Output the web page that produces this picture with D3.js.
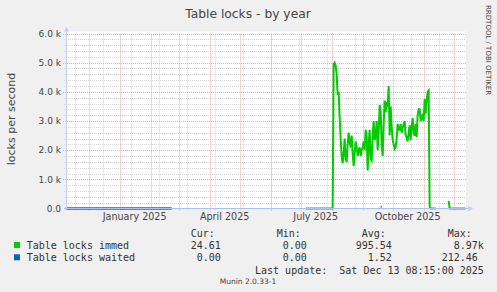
<!DOCTYPE html>
<html lang="en">
<head>
<meta charset="UTF-8">
<title>Table locks - by year</title>
<style>
  body { margin: 0; background: #f0f0f0; }
  svg { display: block; }
  text { font-family: "DejaVu Sans", sans-serif; fill: #444; }
  .mono { font-family: "DejaVu Sans Mono", monospace; font-size: 10px; white-space: pre; fill: #333; }
</style>
<script src="https://d3js.org/d3.v7.min.js"></script>
</head>
<body>
<svg width="497" height="292"></svg>
<script>
// time window of the graph (400 days up to the last update)
const rangeStart = "2024-11-08 08:15";
const rangeEnd = "2025-12-13 08:15";

const yTicks = [0, 1000, 2000, 3000, 4000, 5000, 6000];
const yTickLabels = ["0.0", "1.0 k", "2.0 k", "3.0 k", "4.0 k", "5.0 k", "6.0 k"];
const xLabelMonths = ["2025-01-01", "2025-04-01", "2025-07-01", "2025-10-01"];
const xLabels = ["January 2025", "April 2025", "July 2025", "October 2025"];

// Table locks immed (null = no data)
const immed = [
  ["2024-11-08", 0], ["2025-02-22", 0], ["2025-02-23", null],
  ["2025-07-06", 0], ["2025-08-02", 0],
  ["2025-08-03", 4950], ["2025-08-04", 5000], ["2025-08-05", 4900], ["2025-08-06", 4600],
  ["2025-08-07", 3900], ["2025-08-08", 4000], ["2025-08-09", 3100], ["2025-08-10", 2400],
  ["2025-08-11", 1800], ["2025-08-12", 1550], ["2025-08-13", 1900], ["2025-08-14", 2400],
  ["2025-08-15", 1700], ["2025-08-16", 1600], ["2025-08-17", 2200], ["2025-08-18", 2600],
  ["2025-08-19", 2300], ["2025-08-20", 2100], ["2025-08-21", 2500], ["2025-08-22", 1900],
  ["2025-08-23", 1450], ["2025-08-24", 1900], ["2025-08-25", 2300], ["2025-08-26", 2100],
  ["2025-08-27", 1800], ["2025-08-28", 2000], ["2025-08-29", 2100], ["2025-08-30", 1800],
  ["2025-08-31", 2000], ["2025-09-01", 2100], ["2025-09-02", 2300], ["2025-09-03", 2000],
  ["2025-09-04", 2700], ["2025-09-05", 2500], ["2025-09-06", 1300], ["2025-09-07", 2200],
  ["2025-09-08", 2700], ["2025-09-09", 1700], ["2025-09-10", 1650], ["2025-09-11", 2500],
  ["2025-09-12", 3000], ["2025-09-13", 2350], ["2025-09-14", 2500], ["2025-09-15", 3000],
  ["2025-09-16", 2000], ["2025-09-17", 2600], ["2025-09-18", 3550], ["2025-09-19", 3300],
  ["2025-09-20", 2200], ["2025-09-21", 1800], ["2025-09-22", 2900], ["2025-09-23", 3700],
  ["2025-09-24", 3300], ["2025-09-25", 3650], ["2025-09-26", 3500], ["2025-09-27", 4200],
  ["2025-09-28", 2500], ["2025-09-29", 3500], ["2025-09-30", 2800], ["2025-10-01", 2350],
  ["2025-10-02", 2200], ["2025-10-03", 2050], ["2025-10-04", 2100], ["2025-10-05", 2400],
  ["2025-10-06", 2900], ["2025-10-07", 2700], ["2025-10-08", 2700], ["2025-10-09", 2900],
  ["2025-10-10", 2600], ["2025-10-11", 2750], ["2025-10-12", 2900], ["2025-10-13", 3000],
  ["2025-10-14", 2500], ["2025-10-15", 2450], ["2025-10-16", 2300], ["2025-10-17", 2600],
  ["2025-10-18", 2850], ["2025-10-19", 2350], ["2025-10-20", 2800], ["2025-10-21", 3100],
  ["2025-10-22", 2600], ["2025-10-23", 2500], ["2025-10-24", 2900], ["2025-10-25", 2450],
  ["2025-10-26", 3200], ["2025-10-27", 3400], ["2025-10-28", 3400], ["2025-10-29", 3000],
  ["2025-10-30", 3100], ["2025-10-31", 3250], ["2025-11-01", 3000], ["2025-11-02", 3750],
  ["2025-11-03", 3250], ["2025-11-04", 3700], ["2025-11-05", 4000], ["2025-11-06", 4050],
  ["2025-11-07", 60], ["2025-11-08", 0], ["2025-11-13", 0], ["2025-11-14", null],
  ["2025-11-26", 260], ["2025-11-27", 0], ["2025-12-13", 0]
];

// Table locks waited
const waited = [
  ["2024-11-08", 0], ["2025-02-22", 0], ["2025-02-23", null],
  ["2025-09-19", 60], ["2025-09-20", 60]
];

const legendNames = ["Table locks immed", "Table locks waited"];
const legendColors = ["#00cc00", "#0066b3"];
const legendCur = ["24.61", "0.00"];
const legendMin = ["0.00", "0.00"];
const legendAvg = ["995.54", "1.52"];
const legendMax = ["8.97k", "212.46 "];
const lastUpdate = "Last update:  Sat Dec 13 08:15:00 2025";

const svg = d3.select("svg");
const parseDay = d3.timeParse("%Y-%m-%d");
const parseTime = d3.timeParse("%Y-%m-%d %H:%M");
const t0 = parseTime(rangeStart), t1 = parseTime(rangeEnd);

const plotLeft = 66, plotRight = 466, plotTop = 33.5, plotBottom = 208.5;
const x = d3.scaleTime().domain([t0, t1]).range([plotLeft, plotRight]);
const y = d3.scaleLinear().domain([0, 6000]).range([plotBottom, plotTop]);
const px = v => Math.round(v) + 0.5;

// canvas
svg.append("rect").attr("x", plotLeft).attr("y", plotTop - 2)
  .attr("width", plotRight - plotLeft).attr("height", plotBottom - plotTop + 2)
  .attr("fill", "#fff");

// minor grid
const minorColor = "#d6d6d6", majorColor = "#f4a8a8";
const grid = svg.append("g");
const sundays = d3.timeSunday.range(t0, t1).filter((d, i) => i % 4 === 1);
grid.selectAll(".vmin").data(sundays).enter().append("line")
  .attr("x1", d => px(x(d))).attr("x2", d => px(x(d)))
  .attr("y1", plotTop).attr("y2", plotBottom + 2)
  .attr("stroke", minorColor).attr("stroke-dasharray", "1,1");
const minorY = d3.range(200, 6001, 200).filter(v => v % 1000 !== 0);
grid.selectAll(".hmin").data(minorY).enter().append("line")
  .attr("x1", plotLeft - 2).attr("x2", plotRight)
  .attr("y1", d => px(y(d))).attr("y2", d => px(y(d)))
  .attr("stroke", minorColor).attr("stroke-dasharray", "1,1");

// major grid
const months = d3.timeMonth.range(d3.timeMonth.ceil(t0), t1);
grid.selectAll(".vmaj").data(months).enter().append("line")
  .attr("x1", d => px(x(d))).attr("x2", d => px(x(d)))
  .attr("y1", plotTop).attr("y2", plotBottom + 3)
  .attr("stroke", majorColor).attr("stroke-dasharray", "1,1");
grid.selectAll(".hmaj").data(yTicks.slice(1)).enter().append("line")
  .attr("x1", plotLeft - 3).attr("x2", plotRight)
  .attr("y1", d => px(y(d))).attr("y2", d => px(y(d)))
  .attr("stroke", majorColor).attr("stroke-dasharray", "1,1");

// y labels
svg.selectAll(".ylab").data(yTicks).enter().append("text")
  .attr("x", 61).attr("y", d => y(d) + 3.3)
  .attr("text-anchor", "end").attr("font-size", 9).attr("fill", "#555")
  .text((d, i) => yTickLabels[i]);

// x labels, centred in the middle of the month
svg.selectAll(".xlab").data(xLabelMonths).enter().append("text")
  .attr("x", d => x(d3.timeDay.offset(parseDay(d), 15)))
  .attr("y", 219.5)
  .attr("text-anchor", "middle").attr("font-size", 9.6).attr("fill", "#555")
  .text((d, i) => xLabels[i]);

// series
const line = d3.line()
  .defined(d => d[1] !== null)
  .x(d => x(parseDay(d[0])))
  .y(d => y(d[1]));
svg.append("path").datum(immed).attr("d", line)
  .attr("fill", "none").attr("stroke", legendColors[0]).attr("stroke-width", 2);
svg.append("path").datum(waited).attr("d", line)
  .attr("fill", "none").attr("stroke", legendColors[1]).attr("stroke-width", 2);

// axes with arrows
const axisColor = "#c6cdf6";
svg.append("line").attr("x1", plotLeft + 0.5).attr("x2", plotLeft + 0.5)
  .attr("y1", plotBottom + 2).attr("y2", 29).attr("stroke", axisColor);
svg.append("line").attr("x1", plotLeft - 2).attr("x2", plotRight + 2)
  .attr("y1", plotBottom).attr("y2", plotBottom).attr("stroke", "#a9c2ef");
svg.append("path").attr("d", `M${plotLeft - 2},31.5 L${plotLeft + 0.5},26.5 L${plotLeft + 3},31.5 Z`)
  .attr("fill", axisColor);
svg.append("path").attr("d", `M${plotRight + 2},${plotBottom - 3} L${plotRight + 7},${plotBottom} L${plotRight + 2},${plotBottom + 3} Z`)
  .attr("fill", axisColor);

// title and side texts
svg.append("text").attr("x", 248).attr("y", 18).attr("text-anchor", "middle")
  .attr("font-size", 12.3).attr("fill", "#4a4a4a").text("Table locks - by year");
svg.append("text").attr("transform", "translate(14.5,119) rotate(-90)")
  .attr("text-anchor", "middle").attr("font-size", 11).attr("fill", "#555").text("locks per second");
svg.append("text").attr("transform", "translate(486,5) rotate(90)")
  .attr("font-size", 7).attr("fill", "#bbb").text("RRDTOOL / TOBI OETIKER");
svg.append("text").attr("x", 248).attr("y", 284).attr("text-anchor", "middle")
  .attr("font-size", 7.5).attr("fill", "#bbb").text("Munin 2.0.33-1");

// legend
const lg = svg.append("g");
[["Cur:", 190.7], ["Min:", 276.7], ["Avg:", 361.7], ["Max:", 447.7]].forEach(h => {
  lg.append("text").attr("class", "mono").attr("x", h[1]).attr("y", 237).text(h[0]);
});
legendNames.forEach((name, i) => {
  const by = 248.5 + i * 12.3;
  lg.append("rect").attr("x", 14).attr("y", by - 6.5).attr("width", 6).attr("height", 6)
    .attr("fill", legendColors[i]);
  lg.append("text").attr("class", "mono").attr("x", 26.7).attr("y", by).text(name);
  lg.append("text").attr("class", "mono").attr("x", 220.8).attr("y", by).attr("text-anchor", "end").text(legendCur[i]);
  lg.append("text").attr("class", "mono").attr("x", 306.8).attr("y", by).attr("text-anchor", "end").text(legendMin[i]);
  lg.append("text").attr("class", "mono").attr("x", 391.8).attr("y", by).attr("text-anchor", "end").text(legendAvg[i]);
  lg.append("text").attr("class", "mono").attr("x", 483.8).attr("y", by).attr("text-anchor", "end").text(legendMax[i]);
});
lg.append("text").attr("class", "mono").attr("x", 483.8).attr("y", 273.5).attr("text-anchor", "end").text(lastUpdate);
</script>
</body>
</html>
